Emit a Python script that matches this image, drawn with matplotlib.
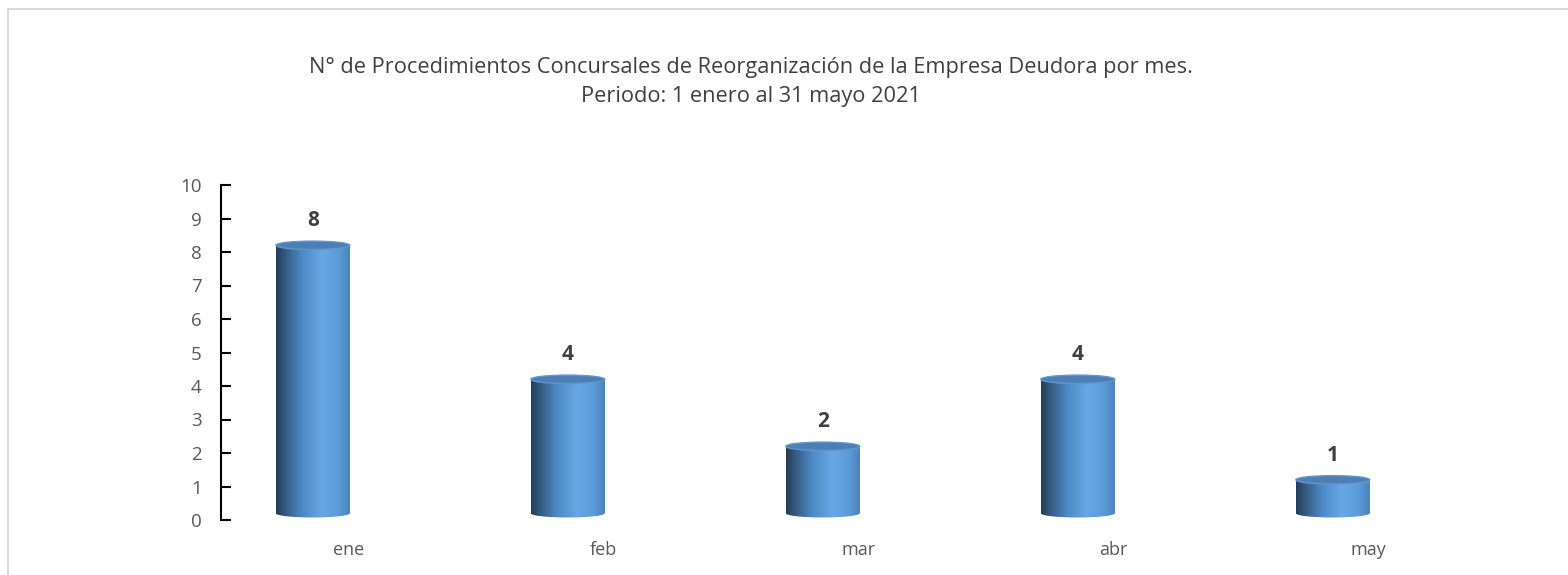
import numpy as np
import matplotlib
matplotlib.use("Agg")
import matplotlib.pyplot as plt
from matplotlib.colors import LinearSegmentedColormap
from matplotlib.patches import Rectangle, Ellipse

months = ["ene", "feb", "mar", "abr", "may"]
counts = [8, 4, 2, 4, 1]

title = ("N° de Procedimientos Concursales de Reorganización de la Empresa Deudora por mes.\n"
         "Periodo: 1 enero al 31 mayo 2021")

plt.rcParams["font.family"] = ["Open Sans", "DejaVu Sans"]

# cylinder shading, left (dark) to right
cyl_cmap = LinearSegmentedColormap.from_list("cyl", [
    (0.0, "#233d58"),
    (0.12, "#34597f"),
    (0.35, "#4d89c4"),
    (0.62, "#68a8e6"),
    (0.85, "#5c9bd9"),
    (1.0, "#4c82ba"),
])
grad = np.linspace(0, 1, 256).reshape(1, -1)

bar_w = 0.29
depth_x = -0.14   # bars sit back from the category centre (3D look)
depth_y = 0.2
cap_h = 0.25

fig = plt.figure(figsize=(15.68, 5.75), dpi=100)
fig.patches.append(Rectangle((8 / 1568, -0.1), 1.2, 1 - 9 / 575 + 0.1,
                             transform=fig.transFigure, fill=False,
                             edgecolor="#d9d9d9", linewidth=1.5, zorder=0))

ax = fig.add_axes([221 / 1568, 1 - 520 / 575, 1275 / 1568, 335 / 575])
ax.set_xlim(-0.5, len(months) - 0.5)
ax.set_ylim(0, 10)

for i, v in enumerate(counts):
    cx = i + depth_x
    x0, x1 = cx - bar_w / 2, cx + bar_w / 2
    y0, y1 = depth_y, v + depth_y
    body = Rectangle((x0, y0), bar_w, v, transform=ax.transData)
    base = Ellipse((cx, y0), bar_w, cap_h, transform=ax.transData)
    for clip in (body, base):
        im = ax.imshow(grad, cmap=cyl_cmap, extent=[x0, x1, y0 - cap_h, y1],
                       aspect="auto", interpolation="bilinear", zorder=2)
        im.set_clip_path(clip)
    ax.add_patch(Ellipse((cx, y1), bar_w, cap_h, facecolor="#4b7fb5",
                         edgecolor="#6197cc", linewidth=1, zorder=3))
    ax.annotate(str(v), (cx, y1 + cap_h / 2), xytext=(0, 7),
                textcoords="offset points", ha="center", va="bottom",
                fontsize=15, fontweight="bold", color="#404040")

ax.set_xticks(range(len(months)))
ax.set_xticklabels(months)
ax.set_yticks(range(0, 11))
ax.tick_params(axis="x", length=0, pad=15, labelsize=13, labelcolor="#595959")
ax.tick_params(axis="y", direction="in", length=7, width=1.5, pad=14,
               labelsize=13.5, labelcolor="#595959")
for side in ("top", "right", "bottom"):
    ax.spines[side].set_visible(False)
ax.spines["left"].set_linewidth(1.5)

fig.text(751 / 1568, 1 - 82 / 575, title, ha="center", va="center",
         fontsize=15.7, color="#404040", linespacing=1.5)

fig.savefig("out.png", dpi=100)
